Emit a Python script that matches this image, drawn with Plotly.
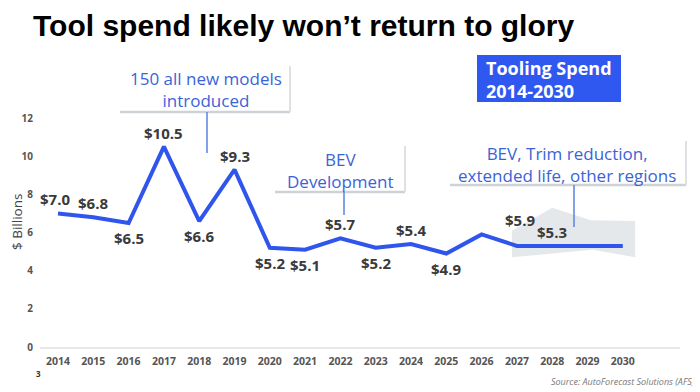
import plotly.graph_objects as go

# ---------------- data ----------------
years = list(range(2014, 2031))
spend = [7.0, 6.8, 6.5, 10.5, 6.6, 9.3, 5.2, 5.1, 5.7, 5.2, 5.4, 4.9, 5.9, 5.3, 5.3, 5.3, 5.3]
value_labels = ["$7.0", "$6.8", "$6.5", "$10.5", "$6.6", "$9.3", "$5.2", "$5.1", "$5.7",
                "$5.2", "$5.4", "$4.9", "$5.9", "", "$5.3", "", ""]
# forecast uncertainty band
band_upper_x = [2026.86, 2028.0, 2029.1, 2030.35]
band_upper = [6.1, 7.3, 6.65, 6.6]
band_lower_x = [2030.35, 2029.15, 2026.86]
band_lower = [4.7, 5.1, 4.7]
y_ticks = [0, 2, 4, 6, 8, 10, 12]

# ---------------- label placement (style) ----------------
label_above = [True, True, False, True, False, True, False, False, True,
               False, True, False, True, True, True, True, True]
label_dx = [-3, 0, 0, 0, 0, 0, 0, 0, 0, 0, 0, 0, 38, 0, 0, 0, 0]

BLUE = "#2f55ec"
TXT_BLUE = "#3b63d8"
FONT = "Open Sans"

# the page body adds an 8px margin; figure is sized so that it ends at the window edge
OFF = 8
W, H = 700 - OFF, 392 - OFF
# plot area in window pixels
L, R, T, B = 40, 680, 99, 347
def px(x):
    return (x - L) / (R - L)
def py(y):
    return (B - y) / (B - T)

fig = go.Figure()

fig.add_trace(go.Scatter(
    x=band_upper_x + band_lower_x + band_upper_x[:1],
    y=band_upper + band_lower + band_upper[:1],
    fill="toself", fillcolor="#e5e8eb", line=dict(width=0),
    mode="lines", hoverinfo="skip", showlegend=False))

fig.add_trace(go.Scatter(
    x=years, y=spend, mode="lines",
    line=dict(color=BLUE, width=4), showlegend=False))

annotations = []
for yr, v, t, up, dx in zip(years, spend, value_labels, label_above, label_dx):
    if not t:
        continue
    annotations.append(dict(
        x=yr, y=v, xref="x", yref="y", text=t, showarrow=False,
        xshift=dx, yshift=14 if up else -15,
        font=dict(family=FONT, size=15, color="#3a3a3a", weight="bold")))

shapes = []

def callout(x0, x1, y0, y1, text, cx, lx, ly0, ly1):
    shapes.append(dict(type="rect", xref="paper", yref="paper",
                       x0=px(x0), x1=px(x1), y0=py(y1), y1=py(y0),
                       fillcolor="white", line=dict(width=0), layer="above"))
    shapes.append(dict(type="line", xref="paper", yref="paper",
                       x0=px(x0), x1=px(x1), y0=py(y1), y1=py(y1),
                       line=dict(color="#cdd2d6", width=2.5), layer="above"))
    shapes.append(dict(type="line", xref="paper", yref="paper",
                       x0=px(x1), x1=px(x1), y0=py(y0), y1=py(y1),
                       line=dict(color="#dde1e4", width=2), layer="above"))
    shapes.append(dict(type="line", xref="paper", yref="paper",
                       x0=px(lx), x1=px(lx), y0=py(ly0), y1=py(ly1),
                       line=dict(color="#5a80e4", width=1.5), layer="above"))
    annotations.append(dict(
        x=px(cx), y=py((y0 + y1) / 2 + 1), xref="paper", yref="paper",
        text=text, showarrow=False, xanchor="center", yanchor="middle",
        align="center", font=dict(family=FONT, size=17, color=TXT_BLUE)))

callout(120, 290, 66, 112, "150 all new models<br>introduced", 206, 207, 112, 153)
callout(275, 405, 146, 192, "BEV<br>Development", 340, 344, 192, 215)
callout(450, 686, 141, 185, "BEV, Trim reduction,<br>extended life, other regions", 567, 574, 185, 227)

# blue legend-like box
shapes.append(dict(type="rect", xref="paper", yref="paper",
                   x0=px(477), x1=px(621), y0=py(102), y1=py(55),
                   fillcolor="#2f58f0", line=dict(width=0)))
annotations.append(dict(
    x=px(484), y=py(79), xref="paper", yref="paper",
    text="Tooling Spend<br>2014-2030", showarrow=False, xanchor="left",
    yanchor="middle", align="left",
    font=dict(family=FONT, size=18, color="white", weight="bold")))

# y-axis title
annotations.append(dict(
    x=px(17), y=py(222), xref="paper", yref="paper", text="$ Billions",
    textangle=-90, showarrow=False, xanchor="center", yanchor="middle",
    font=dict(family=FONT, size=13.5, color="#444444")))

# source + slide number
annotations.append(dict(
    x=px(697), y=py(381), xref="paper", yref="paper",
    text="<i>Source: AutoForecast Solutions (AFS)</i>", showarrow=False,
    xanchor="right", yanchor="middle",
    font=dict(family=FONT, size=9, color="#777777")))
annotations.append(dict(
    x=px(38), y=py(373), xref="paper", yref="paper", text="3",
    showarrow=False, xanchor="center", yanchor="middle",
    font=dict(family=FONT, size=8, color="#333333", weight="bold")))

fig.update_layout(
    width=W, height=H,
    margin=dict(l=L - OFF, r=700 - R, t=T - OFF, b=392 - B, pad=0),
    paper_bgcolor="white", plot_bgcolor="white",
    title=dict(text="<b>Tool spend likely won’t return to glory</b>",
               x=(33 - OFF) / W, xanchor="left", y=1 - (25 - OFF) / H, yanchor="middle",
               font=dict(family="Liberation Sans", size=30, color="black")),
    xaxis=dict(range=[2013.49, 2031.62], tickvals=years,
               ticktext=[str(y) for y in years], showgrid=False, zeroline=False,
               showline=True, linecolor="#e6e8ea", linewidth=1.5, ticks="",
               ticklabelstandoff=4, automargin=False,
               tickfont=dict(family=FONT, size=10.5, color="#555555", weight="bold")),
    yaxis=dict(range=[0, 13], tickvals=y_ticks, showgrid=False, zeroline=False,
               showline=False, ticks="", ticklabelstandoff=6, automargin=False,
               tickfont=dict(family=FONT, size=10, color="#555555", weight="bold")),
    shapes=shapes, annotations=annotations, showlegend=False,
)

fig.write_html("out.html")
